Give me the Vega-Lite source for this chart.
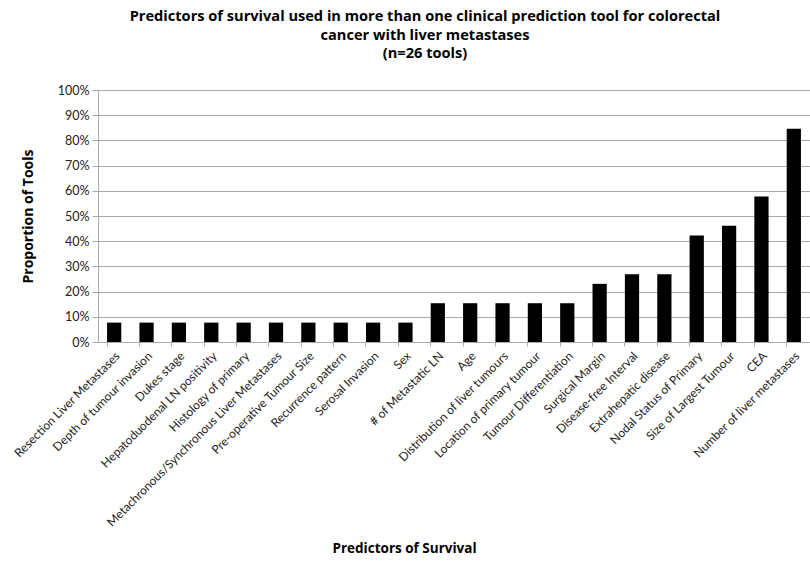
{
  "$schema": "https://vega.github.io/schema/vega-lite/v6.json",
  "width": 712,
  "height": 252,
  "autosize": "none",
  "padding": {"left": 98, "top": 90, "right": 0, "bottom": 220},
  "background": "white",
  "title": {
    "text": ["Predictors of survival used in more than one clinical prediction tool for colorectal", "cancer with liver metastases", "(n=26 tools)"],
    "font": "Open Sans",
    "fontSize": 14.6,
    "fontWeight": "bold",
    "lineHeight": 18.5,
    "anchor": "middle",
    "frame": "group",
    "dx": -29,
    "offset": 23,
    "color": "black"
  },
  "data": {
    "values": [
      {"predictor": "Resection Liver Metastases", "count": 2},
      {"predictor": "Depth of tumour invasion", "count": 2},
      {"predictor": "Dukes stage", "count": 2},
      {"predictor": "Hepatoduodenal LN positivity", "count": 2},
      {"predictor": "Histology of primary", "count": 2},
      {"predictor": "Metachronous/Synchronous Liver Metastases", "count": 2},
      {"predictor": "Pre-operative Tumour Size", "count": 2},
      {"predictor": "Recurrence pattern", "count": 2},
      {"predictor": "Serosal Invasion", "count": 2},
      {"predictor": "Sex", "count": 2},
      {"predictor": "# of Metastatic LN", "count": 4},
      {"predictor": "Age", "count": 4},
      {"predictor": "Distribution of liver tumours", "count": 4},
      {"predictor": "Location of primary tumour", "count": 4},
      {"predictor": "Tumour Differentiation", "count": 4},
      {"predictor": "Surgical Margin", "count": 6},
      {"predictor": "Disease-free Interval", "count": 7},
      {"predictor": "Extrahepatic disease", "count": 7},
      {"predictor": "Nodal Status of Primary", "count": 11},
      {"predictor": "Size of Largest Tumour", "count": 12},
      {"predictor": "CEA", "count": 15},
      {"predictor": "Number of liver metastases", "count": 22}
    ]
  },
  "transform": [{"calculate": "datum.count / 26", "as": "proportion"}],
  "mark": {"type": "bar", "color": "black"},
  "encoding": {
    "x": {
      "field": "predictor",
      "type": "nominal",
      "sort": null,
      "scale": {"paddingInner": 0.56, "paddingOuter": 0.28},
      "axis": {
        "title": "Predictors of Survival",
        "titleFont": "Open Sans",
        "titleFontSize": 13.5,
        "titleFontWeight": "bold",
        "titleColor": "black",
        "titleBaseline": "middle",
        "titleY": 206,
        "titleX": 306,
        "labelAngle": -45,
        "labelAlign": "right",
        "labelBaseline": "top",
        "labelFont": "Lato",
        "labelFontSize": 12,
        "labelColor": "#222",
        "labelLimit": 400,
        "labelPadding": 4,
        "bandPosition": 0,
        "tickColor": "#aaa",
        "tickSize": 4,
        "domainColor": "#aaa",
        "grid": false
      }
    },
    "y": {
      "field": "proportion",
      "type": "quantitative",
      "scale": {"domain": [0, 1]},
      "axis": {
        "title": "Proportion of Tools",
        "titleFont": "Open Sans",
        "titleFontSize": 14,
        "titleFontWeight": "bold",
        "titleColor": "black",
        "titlePadding": 22,
        "format": ".0%",
        "values": [0, 0.1, 0.2, 0.3, 0.4, 0.5, 0.6, 0.7, 0.8, 0.9, 1],
        "labelFont": "Lato",
        "labelFontSize": 12.5,
        "labelColor": "#222",
        "labelPadding": 3,
        "tickColor": "#aaa",
        "tickSize": 6,
        "domainColor": "#aaa",
        "gridColor": "#a8a8a8",
        "grid": true
      }
    }
  },
  "config": {"view": {"stroke": null}}
}
